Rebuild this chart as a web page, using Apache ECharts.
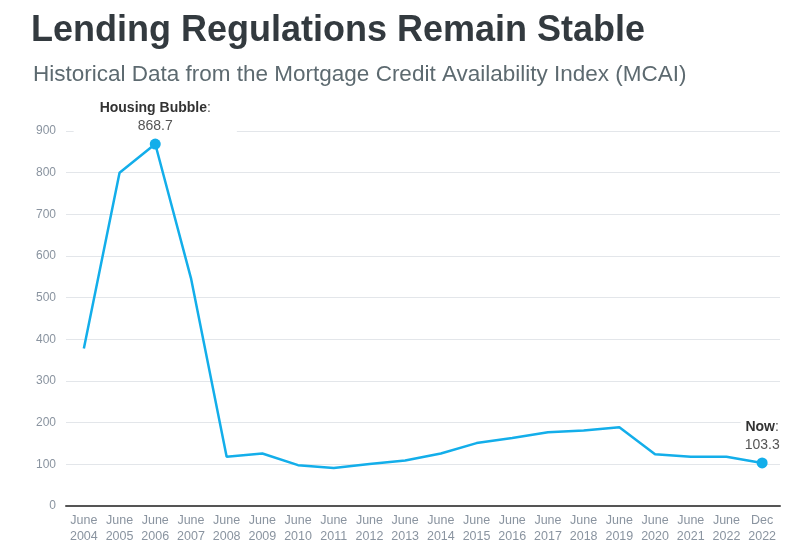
<!DOCTYPE html>
<html><head><meta charset="utf-8">
<script src="https://cdn.jsdelivr.net/npm/echarts@6/dist/echarts.min.js"></script>
<style>html,body{margin:0;padding:0;background:#fff}#c{width:799px;height:554px}</style>
</head><body><div id="c"></div>
<script>
const categories = ['June\n2004','June\n2005','June\n2006','June\n2007','June\n2008','June\n2009','June\n2010','June\n2011','June\n2012','June\n2013','June\n2014','June\n2015','June\n2016','June\n2017','June\n2018','June\n2019','June\n2020','June\n2021','June\n2022','Dec\n2022'];
const mcai = [378, 800, 868.7, 547, 118, 126, 98, 91, 101, 109, 126, 151, 163, 177, 181, 189, 124, 118, 118, 103.3];
const yTicks = [0, 100, 200, 300, 400, 500, 600, 700, 800, 900];
const highlights = {2: 'Housing Bubble', 19: 'Now'};

const chart = echarts.init(document.getElementById('c'));
const blue = '#13aeea';
const FONT = 'Liberation Sans, Arial';
const seriesData = mcai.map((v, i) => {
  if (highlights[i] === undefined) return v;
  return {
    value: v,
    symbol: 'circle',
    symbolSize: 11,
    label: {
      show: true,
      position: 'top',
      distance: 3,
      backgroundColor: '#fff',
      padding: i === 2 ? [2, 26, 0, 26] : [2, 4, 0, 4],
      formatter: '{b|' + highlights[i] + '}{c|:}\n{v|' + v + '}',
      rich: {
        b: {fontFamily: FONT, fontWeight: 'bold', fontSize: 14, color: '#333', lineHeight: 18},
        c: {fontFamily: FONT, fontSize: 14, color: '#555', lineHeight: 18},
        v: {fontFamily: FONT, fontSize: 14, color: '#555', lineHeight: 18, align: 'center'}
      },
      align: 'center'
    }
  };
});

chart.setOption({
  animation: false,
  title: [
    {text: 'Lending Regulations Remain Stable', left: 26, top: 8,
     textStyle: {fontFamily: FONT, fontWeight: 'bold', fontSize: 36, color: '#333a3f'}},
    {text: 'Historical Data from the Mortgage Credit Availability Index (MCAI)', left: 28, top: 58,
     textStyle: {fontFamily: FONT, fontWeight: 'normal', fontSize: 22.5, color: '#5d6a70'}}
  ],
  grid: {left: 66, right: 19, top: 131, bottom: 48},
  xAxis: {
    type: 'category',
    data: categories,
    boundaryGap: true,
    axisLine: {lineStyle: {color: '#555', width: 2}},
    axisTick: {show: false},
    axisLabel: {color: '#8a94a0', fontSize: 12.5, fontFamily: FONT, lineHeight: 16, margin: 7, interval: 0}
  },
  yAxis: {
    type: 'value',
    min: yTicks[0],
    max: yTicks[yTicks.length - 1],
    interval: 100,
    axisLine: {show: false},
    axisTick: {show: false},
    splitLine: {lineStyle: {color: '#e3e6ea', width: 1}},
    axisLabel: {color: '#8a94a0', fontSize: 12, fontFamily: FONT, margin: 10}
  },
  series: [{
    type: 'line',
    data: seriesData,
    showSymbol: true,
    symbol: 'none',
    lineStyle: {color: blue, width: 2.5},
    itemStyle: {color: blue},
    z: 3
  }]
});
</script></body></html>
